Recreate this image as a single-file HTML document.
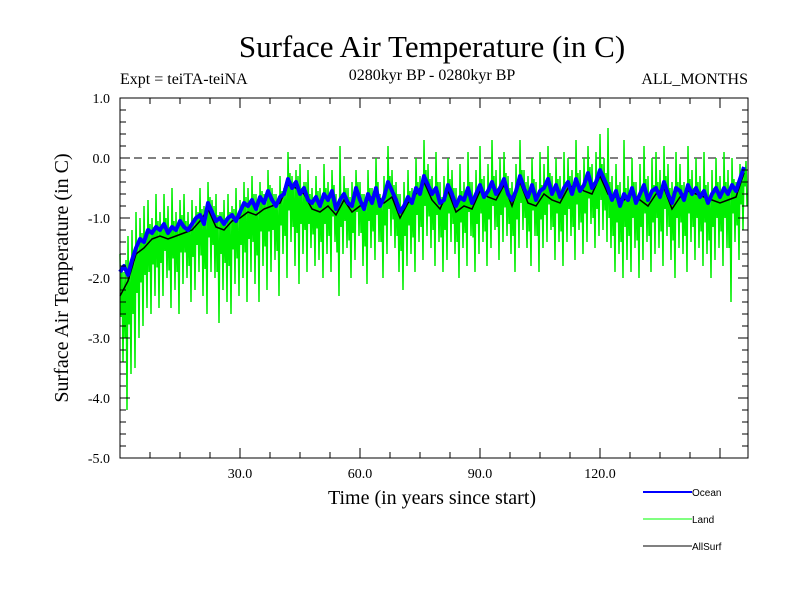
<!DOCTYPE html>
<html><head><meta charset="utf-8"><style>
body{margin:0;background:#fff}
svg{display:block}
text{font-family:"Liberation Serif",serif;fill:#000}
</style></head><body>
<svg id="chart" width="800" height="600" viewBox="0 0 800 600">
<text x="432" y="57" font-size="31" text-anchor="middle">Surface Air Temperature (in C)</text>
<text x="120" y="84" font-size="16">Expt = teiTA-teiNA</text>
<text x="432" y="80" font-size="16" text-anchor="middle">0280kyr BP - 0280kyr BP</text>
<text x="748" y="84" font-size="16" text-anchor="end">ALL_MONTHS</text>
<text transform="translate(68,278) rotate(-90)" font-size="20" text-anchor="middle">Surface Air Temperature (in C)</text>
<text x="432" y="504" font-size="20" text-anchor="middle">Time (in years since start)</text>
<g id="plot"></g>
<g id="axes"></g>
<g>
<line x1="643" y1="492" x2="692" y2="492" stroke="#0000ff" stroke-width="2"/>
<text x="692" y="496" style="font-family:'Liberation Sans',sans-serif" font-size="10">Ocean</text>
<line x1="643" y1="519" x2="692" y2="519" stroke="#00ff00" stroke-width="1"/>
<text x="692" y="523" style="font-family:'Liberation Sans',sans-serif" font-size="10">Land</text>
<line x1="643" y1="546" x2="692" y2="546" stroke="#000" stroke-width="1"/>
<text x="692" y="550" style="font-family:'Liberation Sans',sans-serif" font-size="10">AllSurf</text>
</g>
</svg>
<script>
const oceanVals=[-1.9,-1.8,-1.95,-1.7,-1.5,-1.35,-1.4,-1.2,-1.25,-1.15,
-1.2,-1.1,-1.25,-1.15,-1.2,-1.05,-1.15,-1.2,-1.1,-1.0,
-0.95,-1.1,-0.75,-0.9,-1.05,-1.0,-1.1,-1.0,-0.95,-1.05,
-0.9,-0.75,-0.8,-0.7,-0.85,-0.65,-0.75,-0.55,-0.7,-0.8,
-0.65,-0.6,-0.35,-0.5,-0.4,-0.6,-0.5,-0.7,-0.75,-0.65,
-0.8,-0.6,-0.7,-0.55,-0.85,-0.7,-0.6,-0.75,-0.8,-0.5,
-0.7,-0.85,-0.6,-0.75,-0.5,-0.8,-0.65,-0.4,-0.55,-0.7,
-0.9,-0.8,-0.65,-0.75,-0.5,-0.6,-0.3,-0.45,-0.6,-0.5,
-0.75,-0.7,-0.45,-0.6,-0.8,-0.65,-0.7,-0.5,-0.75,-0.6,
-0.45,-0.65,-0.55,-0.4,-0.6,-0.5,-0.35,-0.6,-0.7,-0.55,
-0.3,-0.5,-0.65,-0.45,-0.7,-0.55,-0.5,-0.35,-0.6,-0.45,
-0.65,-0.5,-0.4,-0.6,-0.35,-0.55,-0.45,-0.25,-0.5,-0.4,
-0.2,-0.35,-0.5,-0.7,-0.55,-0.8,-0.6,-0.7,-0.5,-0.75,
-0.6,-0.45,-0.7,-0.55,-0.5,-0.65,-0.4,-0.6,-0.75,-0.5,
-0.55,-0.7,-0.45,-0.6,-0.5,-0.65,-0.55,-0.75,-0.6,-0.5,
-0.65,-0.5,-0.6,-0.45,-0.55,-0.35,-0.15];
const landHigh=[-1.6,-1.9,-1.3,-1.2,-0.9,-1.0,-0.8,-0.7,-1.0,-0.6,
-0.9,-0.6,-0.8,-0.5,-0.9,-0.7,-0.6,-0.9,-0.7,-0.8,
-0.5,-0.8,-0.4,-0.7,-0.6,-0.9,-0.7,-0.6,-0.8,-0.5,
-0.7,-0.4,-0.5,-0.3,-0.6,-0.4,-0.6,-0.2,-0.5,-0.6,
-0.3,-0.5,0.1,-0.3,-0.2,-0.1,-0.4,-0.2,-0.5,-0.3,
-0.5,-0.1,-0.4,-0.2,-0.6,0.2,-0.3,-0.5,-0.4,-0.2,
-0.4,-0.6,-0.2,-0.5,0.0,-0.6,-0.3,0.2,-0.2,-0.4,
-0.6,-0.4,-0.2,-0.5,0.0,-0.3,0.3,-0.1,-0.3,0.1,
-0.4,-0.3,0.0,-0.2,-0.5,-0.1,-0.4,0.1,-0.4,-0.2,
0.2,-0.3,-0.1,0.3,-0.2,0.0,0.1,-0.3,-0.4,-0.1,
0.3,-0.2,-0.3,0.0,-0.4,0.1,-0.1,0.2,-0.3,0.0,
-0.3,0.1,0.0,-0.2,0.3,-0.2,0.0,0.2,-0.1,0.1,
0.4,0.0,0.5,-0.3,-0.1,-0.4,0.3,-0.3,0.0,-0.4,
-0.1,0.2,-0.3,0.0,0.1,-0.2,0.2,-0.1,-0.4,0.1,
-0.1,-0.4,0.2,-0.2,0.0,-0.3,0.1,-0.4,-0.2,0.0,
-0.3,0.1,-0.2,0.0,-0.4,-0.1,-0.2];
const landLow=[-3.4,-4.2,-3.6,-3.5,-3.0,-2.8,-2.5,-2.6,-2.3,-2.5,
-2.3,-2.0,-2.5,-2.2,-2.6,-2.1,-2.0,-2.4,-2.2,-1.9,
-2.3,-2.6,-1.9,-2.0,-2.75,-2.2,-2.4,-2.6,-2.1,-2.3,
-2.0,-2.4,-1.9,-2.1,-2.4,-1.8,-2.2,-1.9,-1.7,-2.3,
-1.6,-2.0,-1.4,-1.8,-2.1,-1.6,-1.9,-1.5,-1.8,-1.7,
-2.0,-1.6,-1.9,-1.4,-2.3,-1.6,-1.5,-2.0,-1.7,-1.3,
-1.8,-2.1,-1.5,-1.7,-1.4,-2.0,-1.6,-1.3,-1.5,-1.9,
-2.2,-1.8,-1.6,-1.9,-1.4,-1.7,-1.3,-1.5,-1.8,-1.4,
-1.9,-1.7,-1.4,-1.6,-2.0,-1.5,-1.8,-1.3,-1.9,-1.6,
-1.4,-1.8,-1.5,-1.2,-1.7,-1.4,-1.3,-1.6,-1.9,-1.5,
-1.2,-1.5,-1.8,-1.3,-1.9,-1.5,-1.4,-1.2,-1.7,-1.4,
-1.8,-1.4,-1.3,-1.7,-1.2,-1.6,-1.4,-1.1,-1.5,-1.3,
-1.2,-1.4,-1.5,-1.9,-1.6,-2.0,-1.7,-1.9,-1.5,-2.0,
-1.7,-1.4,-1.9,-1.6,-1.5,-1.8,-1.3,-1.7,-2.0,-1.5,
-1.6,-1.9,-1.4,-1.7,-1.5,-1.8,-1.6,-2.0,-1.7,-1.5,
-1.8,-1.5,-2.4,-1.4,-1.7,-1.2,-0.8];
const allSurfVals=[-2.3,-2.05,-1.6,-1.5,-1.35,-1.3,-1.35,-1.3,-1.25,-1.2,
-1.05,-0.85,-1.15,-1.2,-1.05,-1.0,-0.9,-0.95,-0.85,-0.8,
-0.75,-0.45,-0.5,-0.6,-0.85,-0.9,-0.8,-0.95,-0.7,-0.9,
-0.8,-0.7,-0.6,-0.75,-0.65,-1.0,-0.75,-0.6,-0.4,-0.7,
-0.85,-0.55,-0.9,-0.8,-0.85,-0.55,-0.65,-0.7,-0.45,-0.8,
-0.4,-0.75,-0.8,-0.6,-0.7,-0.75,-0.5,-0.45,-0.55,-0.6,
-0.3,-0.6,-0.65,-0.7,-0.6,-0.7,-0.8,-0.6,-0.5,-0.85,
-0.65,-0.55,-0.6,-0.65,-0.7,-0.75,-0.7,-0.65,-0.25];
const yTicks=[1.0,0.0,-1.0,-2.0,-3.0,-4.0,-5.0];
const yTickLabels=["1.0","0.0","-1.0","-2.0","-3.0","-4.0","-5.0"];
const xTicks=[30,60,90,120];
const xTickLabels=["30.0","60.0","90.0","120.0"];

const L=120,R=748,T=98,B=458,X0=0,X1=157,Y0=-5,Y1=1;
const sx=v=>L+(v-X0)/(X1-X0)*(R-L);
const sy=v=>B-(v-Y0)/(Y1-Y0)*(B-T);
const NS='http://www.w3.org/2000/svg';
const plot=document.getElementById('plot'),axes=document.getElementById('axes');
function mk(tag,attrs,parent){const e=document.createElementNS(NS,tag);for(const k in attrs)e.setAttribute(k,attrs[k]);parent.appendChild(e);return e;}

const z=mk('line',{x1:L,x2:R,y1:sy(0),y2:sy(0),stroke:'#000','stroke-width':1,'stroke-dasharray':'8,6'},plot);



// land: dense zigzag between extremes and intermediate levels
let lp=[];
landHigh.forEach((h,i)=>{
  const lo=landLow[i],oc=oceanVals[i];
  lp.push(sx(i)+','+sy(h));
  lp.push(sx(i+0.25)+','+sy((lo+oc)/2));
  lp.push(sx(i+0.5)+','+sy(oc+0.1));
  lp.push(sx(i+0.75)+','+sy(lo));
});
const land=mk('polyline',{points:lp.join(' '),fill:'none',stroke:'#00ee00','stroke-width':1.5},plot);



const ap=allSurfVals.map((v,i)=>sx(i*2)+','+sy(v)).join(' ');
const all=mk('polyline',{points:ap,fill:'none',stroke:'#000','stroke-width':1.5},plot);



const op=oceanVals.map((v,i)=>sx(i)+','+sy(v)).join(' ');
const oc=mk('polyline',{points:op,fill:'none',stroke:'#0000ff','stroke-width':4,'stroke-linejoin':'round'},plot);



const fr=mk('rect',{x:L,y:T,width:R-L,height:B-T,fill:'none',stroke:'#000','stroke-width':1},axes);



for(let k=0;k<=30;k++){const v=Y0+k*0.2;const y=sy(v);const major=k%5===0;const len=major?10:6;
 mk('line',{x1:L,x2:L+len,y1:y,y2:y,stroke:'#000'},axes);mk('line',{x1:R,x2:R-len,y1:y,y2:y,stroke:'#000'},axes);}
yTicks.forEach((v,i)=>{const t=mk('text',{x:L-10,y:sy(v)+5,'font-size':14,'text-anchor':'end'},axes);t.textContent=yTickLabels[i];
 
 });
for(let v=7.5;v<X1;v+=7.5){const x=sx(v);const major=Math.abs(v%30)<0.01;const len=major?10:6;
 mk('line',{x1:x,x2:x,y1:B,y2:B-len,stroke:'#000'},axes);mk('line',{x1:x,x2:x,y1:T,y2:T+len,stroke:'#000'},axes);}
xTicks.forEach((v,i)=>{const t=mk('text',{x:sx(v),y:478,'font-size':14,'text-anchor':'middle'},axes);t.textContent=xTickLabels[i];
 
 });
</script>
</body></html>
